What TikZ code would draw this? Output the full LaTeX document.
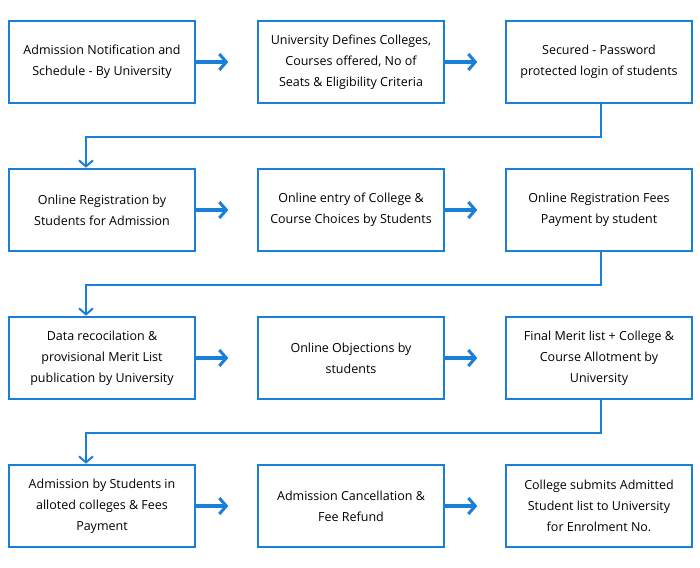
\documentclass[tikz,border=0pt]{standalone}
\usepackage{fontspec}
\setmainfont{Open Sans}
\usetikzlibrary{arrows.meta,positioning}
\begin{document}
\begin{tikzpicture}[x=1pt,y=-1pt,
box/.style={draw=flowblue,line width=2.6pt,minimum width=186pt,minimum height=82pt,
  align=center,font=\fontsize{12.5}{21}\selectfont},
flow/.style={-{Straight Barb[length=7pt,width=16pt,line width=3pt]},draw=flowblue,line width=3.6pt},
wrap/.style={-{Straight Barb[length=6pt,width=14pt,line width=2pt]},draw=flowblue,line width=2pt}]
\definecolor{flowblue}{HTML}{1A7FD6}
\useasboundingbox (0,0) rectangle (700,567);
% row 1
\node[box] (A1) at (102,62) {Admission Notification and\\Schedule - By University};
\node[box] (A2) at (351,62) {University Defines Colleges,\\Courses offered, No of\\Seats \& Eligibility Criteria};
\node[box] (A3) at (599,62) {Secured - Password\\protected login of students};
% row 2
\node[box] (B1) at (102,210) {Online Registration by\\Students for Admission};
\node[box] (B2) at (351,210) {Online entry of College \&\\Course Choices by Students};
\node[box] (B3) at (599,210) {Online Registration Fees\\Payment by student};
% row 3
\node[box] (C1) at (102,358) {Data recocilation \&\\provisional Merit List\\publication by University};
\node[box] (C2) at (351,358) {Online Objections by\\students};
\node[box] (C3) at (599,358) {Final Merit list + College \&\\Course Allotment by\\University};
% row 4
\node[box] (D1) at (102,506) {Admission by Students in\\alloted colleges \& Fees\\Payment};
\node[box] (D2) at (351,506) {Admission Cancellation \&\\Fee Refund};
\node[box] (D3) at (599,506) {College submits Admitted\\Student list to University\\for Enrolment No.};
% arrows within rows
\foreach \r in {A,B,C,D}{
  \draw[flow] (\r1.east) -- ++(32,0);
  \draw[flow] (\r2.east) -- ++(32,0);
}
% row to row
\foreach \a/\b in {A/B,B/C,C/D}{
  \draw[wrap] ([xshift=2pt]\a3.south) -- ++(0,33) -| ([xshift=-16pt]\b1.north);
}
\end{tikzpicture}
\end{document}
